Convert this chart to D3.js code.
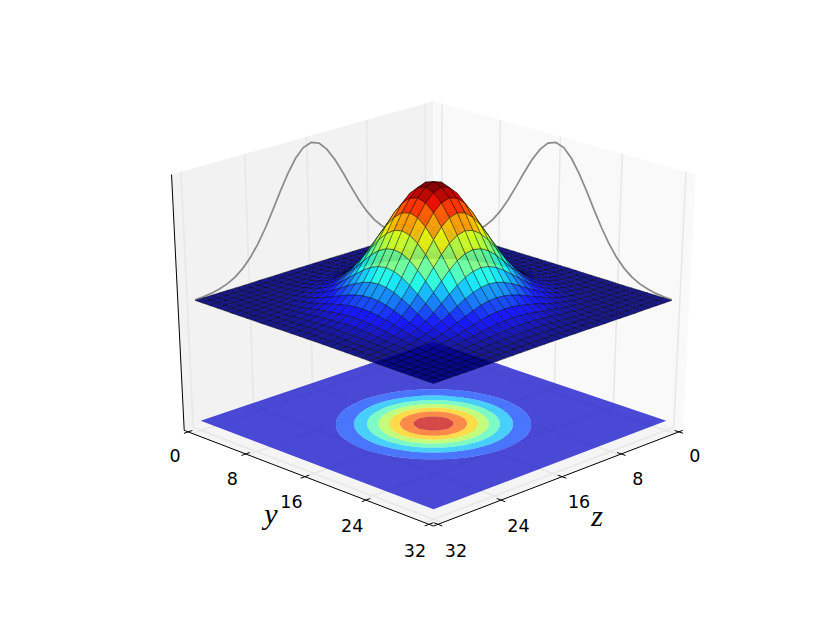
<!DOCTYPE html>
<html>
<head>
<meta charset="utf-8">
<script src="https://cdn.jsdelivr.net/npm/d3@7"></script>
<style>
html,body{margin:0;padding:0;background:#fff}
svg{display:block}
text{font-family:"DejaVu Sans",sans-serif;fill:#000}
</style>
</head>
<body>
<svg id="chart" width="830" height="623"></svg>
<script>
// ---- values ----
const yTicks = [0, 8, 16, 24, 32];
const zTicks = [0, 8, 16, 24, 32];
const axisLabelY = "y";
const axisLabelZ = "z";
const contourLevels = [12.5, 25, 37.5, 50, 62.5, 75, 87.5];
const floorValue = -100;
const gridSize = 32;
const gridExtent = 32;
const peakIndex = 16;
// curve on the y = 0 edge, one value per grid sample along z
const wallCurveLeft = [0.2,0.4,0.9,1.6,3.1,5.3,8.8,13.9,20.9,30.0,41.1,53.6,66.7,78.9,89.0,95.7,98.0,95.7,89.0,78.9,66.7,53.6,41.1,30.0,20.9,13.9,8.8,5.3,3.1,1.6,0.9,0.4];
// curve on the z = 0 edge, one value per grid sample along y
const wallCurveRight = [0.2,0.4,0.9,1.6,3.1,5.3,8.8,13.9,20.9,30.0,41.1,53.6,66.7,78.9,89.0,95.7,98.0,95.7,89.0,78.9,66.7,53.6,41.1,30.0,20.9,13.9,8.8,5.3,3.1,1.6,0.9,0.4];
// surface height by grid distance from the peak (one quadrant; the surface is mirror symmetric)
const surfaceQuadrant = [
[96.0,93.7,87.2,77.3,65.3,52.5,40.3,29.4,20.5,13.6,8.6,5.2,3.0,1.6,0.8,0.4,0.2],
[93.7,91.5,85.1,75.5,63.7,51.3,39.3,28.7,20.0,13.3,8.4,5.1,2.9,1.6,0.8,0.4,0.2],
[87.2,85.1,79.2,70.2,59.3,47.8,36.6,26.7,18.6,12.4,7.8,4.7,2.7,1.5,0.8,0.4,0.2],
[77.3,75.5,70.2,62.2,52.6,42.3,32.4,23.7,16.5,10.9,6.9,4.2,2.4,1.3,0.7,0.3,0.2],
[65.3,63.7,59.3,52.6,44.4,35.7,27.4,20.0,13.9,9.3,5.8,3.5,2.0,1.1,0.6,0.3,0.1],
[52.5,51.3,47.8,42.3,35.7,28.7,22.1,16.1,11.2,7.4,4.7,2.8,1.6,0.9,0.5,0.2,0.1],
[40.3,39.3,36.6,32.4,27.4,22.1,16.9,12.3,8.6,5.7,3.6,2.2,1.3,0.7,0.4,0.2,0.1],
[29.4,28.7,26.7,23.7,20.0,16.1,12.3,9.0,6.3,4.2,2.6,1.6,0.9,0.5,0.3,0.1,0.1],
[20.5,20.0,18.6,16.5,13.9,11.2,8.6,6.3,4.4,2.9,1.8,1.1,0.6,0.3,0.2,0.1,0.0],
[13.6,13.3,12.4,10.9,9.3,7.4,5.7,4.2,2.9,1.9,1.2,0.7,0.4,0.2,0.1,0.1,0.0],
[8.6,8.4,7.8,6.9,5.8,4.7,3.6,2.6,1.8,1.2,0.8,0.5,0.3,0.1,0.1,0.0,0.0],
[5.2,5.1,4.7,4.2,3.5,2.8,2.2,1.6,1.1,0.7,0.5,0.3,0.2,0.1,0.0,0.0,0.0],
[3.0,2.9,2.7,2.4,2.0,1.6,1.3,0.9,0.6,0.4,0.3,0.2,0.1,0.0,0.0,0.0,0.0],
[1.6,1.6,1.5,1.3,1.1,0.9,0.7,0.5,0.3,0.2,0.1,0.1,0.0,0.0,0.0,0.0,0.0],
[0.8,0.8,0.8,0.7,0.6,0.5,0.4,0.3,0.2,0.1,0.1,0.0,0.0,0.0,0.0,0.0,0.0],
[0.4,0.4,0.4,0.3,0.3,0.2,0.2,0.1,0.1,0.1,0.0,0.0,0.0,0.0,0.0,0.0,0.0],
[0.2,0.2,0.2,0.2,0.1,0.1,0.1,0.1,0.0,0.0,0.0,0.0,0.0,0.0,0.0,0.0,0.0]
];

// ---- camera and scales ----
const cam = {cx:433.5, cy:305.6, d:10.05, fx:3631, fy:2633, elev:27.05*Math.PI/180};
const halfH = 0.548;
const sinE = Math.sin(cam.elev), cosE = Math.cos(cam.elev);
const dataScale = d3.scaleLinear().domain([0,gridExtent]).range([-0.466,0.466]);
const indexScale = d3.scaleLinear().domain([0,gridSize-1]).range([0,gridExtent]);
const cube = i => dataScale(indexScale(i));
const tickScale = d3.scaleLinear().domain([0,gridExtent]).range([-0.483,0.483]);
const heightScale = d3.scaleLinear().domain([floorValue,100]).range([-0.505,0.5496]);
const labelDY = d3.scaleLinear().domain([0,32]).range([24,26.7]);
const labelDXy = d3.scaleLinear().domain([0,32]).range([-13,-14]);
const labelDXz = d3.scaleLinear().domain([0,32]).range([16,18]);

const depth = (a,b,c) => (a+b)/Math.SQRT2*cosE + c*sinE;
function project(a,b,c){
  const w=(a+b)/Math.SQRT2, X=(a-b)/Math.SQRT2;
  const Y=c*cosE-w*sinE, D=w*cosE+c*sinE, k=cam.d-D;
  return [cam.cx+cam.fx*X/k, cam.cy-cam.fy*Y/k];
}
const pathOf = d3.line();
const closed = pts => pathOf(pts)+"Z";

const jetR=d3.scaleLinear().domain([0,.35,.66,.89,1]).range([0,0,1,1,.5]);
const jetG=d3.scaleLinear().domain([0,.125,.375,.64,.91,1]).range([0,0,1,1,0,0]);
const jetB=d3.scaleLinear().domain([0,.11,.34,.65,1]).range([.5,1,1,0,0]);
const jet=t=>`rgb(${Math.round(255*jetR(t))},${Math.round(255*jetG(t))},${Math.round(255*jetB(t))})`;

const surface = d3.range(gridSize).map(i=>d3.range(gridSize).map(j=>surfaceQuadrant[Math.abs(i-peakIndex)][Math.abs(j-peakIndex)]));
const svg = d3.select("#chart");

// ---- panes ----
const E=0.5;
const panes = svg.append("g");
panes.append("path").attr("fill","#f2f2f2").attr("d",closed([project(-E,-E,-halfH),project(-E,E,-halfH),project(-E,E,halfH),project(-E,-E,halfH)]));
panes.append("path").attr("fill","#f9f9f9").attr("d",closed([project(-E,-E,-halfH),project(E,-E,-halfH),project(E,-E,halfH),project(-E,-E,halfH)]));
panes.append("path").attr("fill","#f5f5f5").attr("d",closed([project(-E,-E,-halfH),project(E,-E,-halfH),project(E,E,-halfH),project(-E,E,-halfH)]));

// ---- grid ----
const grid = svg.append("g").attr("fill","none").attr("stroke","#e7e7e7").attr("stroke-width",1.5);
zTicks.forEach(t=>{
  const b=dataScale(t);
  grid.append("path").attr("d",pathOf([project(-E,b,-halfH),project(-E,b,halfH)]));
  grid.append("path").attr("d",pathOf([project(-E,b,-halfH),project(E,b,-halfH)]));
});
yTicks.forEach(t=>{
  const a=dataScale(t);
  grid.append("path").attr("d",pathOf([project(a,-E,-halfH),project(a,-E,halfH)]));
  grid.append("path").attr("d",pathOf([project(a,-E,-halfH),project(a,E,-halfH)]));
});

// ---- axes ----
const axes = svg.append("g").attr("fill","none").attr("stroke","#000").attr("stroke-width",1);
axes.append("path").attr("d",pathOf([project(-E,E,-halfH),project(-E,E,halfH)]));
axes.append("path").attr("d",pathOf([project(-E,E,-halfH),project(E,E,-halfH)]));
axes.append("path").attr("d",pathOf([project(E,-E,-halfH),project(E,E,-halfH)]));
const tickHalf=0.016;
yTicks.forEach(t=>{const a=tickScale(t);
  axes.append("path").attr("d",pathOf([project(a,E-tickHalf,-halfH),project(a,E+tickHalf,-halfH)]));});
zTicks.forEach(t=>{const b=tickScale(t);
  axes.append("path").attr("d",pathOf([project(E-tickHalf,b,-halfH),project(E+tickHalf,b,-halfH)]));});

const labels = svg.append("g").attr("text-anchor","middle").attr("font-size",17.5);
yTicks.forEach(t=>{const p=project(tickScale(t),E,-halfH);
  labels.append("text").attr("x",p[0]+labelDXy(t)).attr("y",p[1]+labelDY(t)).attr("dy","0.36em").text(t);});
zTicks.forEach(t=>{const p=project(E,tickScale(t),-halfH);
  labels.append("text").attr("x",p[0]+labelDXz(t)).attr("y",p[1]+labelDY(t)).attr("dy","0.36em").text(t);});
const pY=project(tickScale(16),E,-halfH), pZ=project(E,tickScale(16),-halfH);
svg.append("text").attr("x",pY[0]-34).attr("y",pY[1]+41).attr("dy","0.2em").attr("text-anchor","middle")
  .style("font-family","'Liberation Serif',serif").style("font-style","italic").attr("font-size",30).text(axisLabelY);
svg.append("text").attr("x",pZ[0]+35).attr("y",pZ[1]+43).attr("dy","0.2em").attr("text-anchor","middle")
  .style("font-family","'Liberation Serif',serif").style("font-style","italic").attr("font-size",30).text(axisLabelZ);

// ---- wall curves ----
const curves = svg.append("g").attr("fill","none").attr("stroke","#8a8a8a").attr("stroke-width",1.7);
curves.append("path").attr("d",pathOf(wallCurveLeft.map((v,j)=>project(cube(0),cube(j),heightScale(v)))));
curves.append("path").attr("d",pathOf(wallCurveRight.map((v,i)=>project(cube(i),cube(0),heightScale(v)))));

// ---- filled contours on the floor ----
const flat = [];
for(let j=0;j<gridSize;j++) for(let i=0;i<gridSize;i++) flat.push(surface[i][j]);
const contourGen = d3.contours().size([gridSize,gridSize]).thresholds(contourLevels);
const contourSets = contourGen(flat);
const floorC = heightScale(floorValue);
function ringsPath(mp){
  return mp.coordinates.map(poly=>poly.map(ring=>closed(ring.map(([x,y])=>project(cube(x-0.5),cube(y-0.5),floorC)))).join("")).join("");
}
const last=gridSize-1;
const floorRect = closed([[0,0],[last,0],[last,last],[0,last]].map(([i,j])=>project(cube(i),cube(j),floorC)));
const bandEdges=[0,...contourLevels,100];
const bands = svg.append("g").attr("fill-opacity",0.7).attr("fill-rule","evenodd");
bandEdges.slice(0,-1).forEach((lo,k)=>{
  const outer = k===0 ? floorRect : ringsPath(contourSets[k-1]);
  const inner = k<contourSets.length ? ringsPath(contourSets[k]) : "";
  bands.append("path").attr("d",outer+inner).attr("fill",jet((lo+bandEdges[k+1])/200));
});

// ---- surface facets, far to near ----
const facets=[];
for(let i=0;i<gridSize-1;i++) for(let j=0;j<gridSize-1;j++){
  const corners=[[i,j],[i+1,j],[i+1,j+1],[i,j+1]];
  const pts3=corners.map(([p,q])=>[cube(p),cube(q),heightScale(surface[p][q])]);
  facets.push({
    value:d3.mean(corners,([p,q])=>surface[p][q]),
    depth:d3.mean(pts3,p=>depth(p[0],p[1],p[2])),
    pts:pts3.map(p=>project(p[0],p[1],p[2]))
  });
}
facets.sort((A,B)=>d3.ascending(A.depth,B.depth));
const colorNorm=d3.scaleLinear().domain(d3.extent(facets,f=>f.value)).range([0,1]);
svg.append("g").selectAll("path").data(facets).join("path")
  .attr("d",f=>closed(f.pts))
  .attr("fill",f=>jet(colorNorm(f.value)))
  .attr("fill-opacity",0.9)
  .attr("stroke","#000")
  .attr("stroke-opacity",0.55)
  .attr("stroke-width",0.7)
  .attr("stroke-linejoin","round");
</script>
</body>
</html>
